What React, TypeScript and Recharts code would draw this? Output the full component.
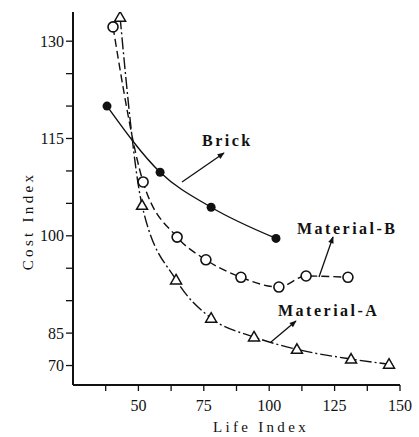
import { LineChart, Line, XAxis, YAxis } from "recharts";

// values (Life Index vs Cost Index)
const brickX = [38, 58.3, 77.8, 102.6];
const brickY = [120, 109.8, 104.4, 99.6];
const matBX = [40.3, 51.8, 64.8, 75.8, 89.2, 103.7, 114.1, 130.1];
const matBY = [132.2, 108.3, 99.8, 96.3, 93.6, 92.1, 93.8, 93.6];
const matAX = [43, 51.4, 64.4, 77.8, 94.2, 110.6, 131.3, 145.8];
const matAY = [133.7, 104.7, 93.2, 87.3, 83.2, 77.5, 73, 70.6];

const xTicks = [37.5, 50, 62.5, 75, 87.5, 100, 112.5, 125, 137.5, 150];
const xLabelled = [50, 75, 100, 125, 150];
const yTicks = [70, 85, 90, 95, 100, 105, 110, 115, 120, 125, 130];
const yLabelled = [70, 85, 100, 115, 130];

const toRows = (xs: number[], ys: number[]) => xs.map((x, i) => ({ x, y: ys[i] }));
const brick = toRows(brickX, brickY);
const matB = toRows(matBX, matBY);
const matA = toRows(matAX, matAY);

// the printed y axis is squeezed below 85 (70 sits one minor step under 85)
const BREAK = 85;
const SQUEEZE = 1 / 3;
const warp = (v: number) => (v >= BREAK ? v : BREAK - (BREAK - v) * SQUEEZE);

function brokenScale(): any {
  let dom = [0, 1];
  let rng = [0, 1];
  const s: any = (v: number) => {
    const a = warp(dom[0]);
    const b = warp(dom[1]);
    return rng[0] + ((warp(Number(v)) - a) / (b - a)) * (rng[1] - rng[0]);
  };
  s.domain = (d?: number[]) => {
    if (d === undefined) return dom.slice();
    dom = d.map(Number);
    return s;
  };
  s.range = (r?: number[]) => {
    if (r === undefined) return rng.slice();
    rng = r.map(Number);
    return s;
  };
  s.invert = (p: number) => {
    const a = warp(dom[0]);
    const b = warp(dom[1]);
    const w = a + ((p - rng[0]) / (rng[1] - rng[0])) * (b - a);
    return w >= BREAK ? w : BREAK - (BREAK - w) / SQUEEZE;
  };
  s.ticks = () => yTicks;
  s.tickFormat = () => (v: number) => String(v);
  s.copy = () => brokenScale().domain(dom).range(rng);
  return s;
}

const ink = "#111";
const serif = "'Liberation Serif', 'Times New Roman', serif";

const FilledDot = (p: any) => (
  <circle key={`b${p.index}`} cx={p.cx} cy={p.cy} r={4.5} fill={ink} />
);
const OpenDot = (p: any) => (
  <circle key={`m${p.index}`} cx={p.cx} cy={p.cy} r={5} fill="#fff" stroke={ink} strokeWidth={1.6} />
);
const TriDot = (p: any) => (
  <path
    key={`a${p.index}`}
    d={`M${p.cx},${p.cy - 5.5}L${p.cx + 5.5},${p.cy + 4}L${p.cx - 5.5},${p.cy + 4}Z`}
    fill="#fff"
    stroke={ink}
    strokeWidth={1.5}
    strokeLinejoin="miter"
  />
);

const tickStyle = { fontFamily: serif, fontSize: 16, fill: ink };
const labelStyle = { fontFamily: serif, fontSize: 16, fontWeight: 700, letterSpacing: 2.5, fill: ink };

export default function App() {
  return (
    <div style={{ position: "absolute", left: 0, top: 0, width: 419, height: 437, background: "#fff" }}>
      <LineChart width={419} height={437} margin={{ top: 12, right: 19, bottom: 0, left: 0 }}>
        <XAxis
          dataKey="x"
          type="number"
          domain={[25, 150]}
          ticks={xTicks}
          allowDataOverflow
          height={52}
          tickSize={6}
          tickMargin={9}
          interval={0}
          tickFormatter={(v: number) => (xLabelled.includes(v) ? String(v) : "")}
          tick={tickStyle}
          axisLine={{ stroke: ink, strokeWidth: 2 }}
          tickLine={{ stroke: ink, strokeWidth: 1.3 }}
        />
        <YAxis
          dataKey="y"
          type="number"
          scale={brokenScale()}
          domain={[61, 134.5]}
          ticks={yTicks}
          allowDataOverflow
          width={73}
          tickSize={7}
          tickMargin={2}
          interval={0}
          tickFormatter={(v: number) => (yLabelled.includes(v) ? String(v) : "")}
          tick={tickStyle}
          axisLine={{ stroke: ink, strokeWidth: 2 }}
          tickLine={{ stroke: ink, strokeWidth: 1.3 }}
        />
        <Line
          data={brick}
          dataKey="y"
          type="monotone"
          stroke={ink}
          strokeWidth={1.4}
          dot={FilledDot}
          activeDot={false}
          isAnimationActive={false}
        />
        <Line
          data={matB}
          dataKey="y"
          type="monotone"
          stroke={ink}
          strokeWidth={1.4}
          strokeDasharray="8 4"
          dot={OpenDot}
          activeDot={false}
          isAnimationActive={false}
        />
        <Line
          data={matA}
          dataKey="y"
          type="monotone"
          stroke={ink}
          strokeWidth={1.4}
          strokeDasharray="12 3 2 3"
          dot={TriDot}
          activeDot={false}
          isAnimationActive={false}
        />
      </LineChart>

      <svg
        width={419}
        height={437}
        style={{ position: "absolute", left: 0, top: 0, pointerEvents: "none" }}
      >
        <defs>
          <marker id="head" viewBox="0 0 10 10" refX="9" refY="5" markerWidth="9" markerHeight="7" orient="auto" markerUnits="userSpaceOnUse">
            <path d="M0,1L10,5L0,9Z" fill={ink} />
          </marker>
        </defs>
        <text x={202} y={146} style={labelStyle}>Brick</text>
        <line x1={182} y1={182} x2={224} y2={153} stroke={ink} strokeWidth={1.3} markerEnd="url(#head)" />
        <text x={297} y={234} style={labelStyle}>Material-B</text>
        <line x1={319} y1={277} x2={333} y2={237} stroke={ink} strokeWidth={1.3} markerEnd="url(#head)" />
        <text x={278} y={316} style={labelStyle}>Material-A</text>
        <line x1={271} y1={342} x2={296} y2={321} stroke={ink} strokeWidth={1.3} markerEnd="url(#head)" />
        <text
          x={33}
          y={221}
          textAnchor="middle"
          transform="rotate(-90 33 221)"
          style={{ fontFamily: serif, fontSize: 15, letterSpacing: 3.3, fill: ink }}
        >
          Cost Index
        </text>
        <text
          x={261}
          y={432}
          textAnchor="middle"
          style={{ fontFamily: serif, fontSize: 15, letterSpacing: 3.3, fill: ink }}
        >
          Life Index
        </text>
      </svg>
    </div>
  );
}
